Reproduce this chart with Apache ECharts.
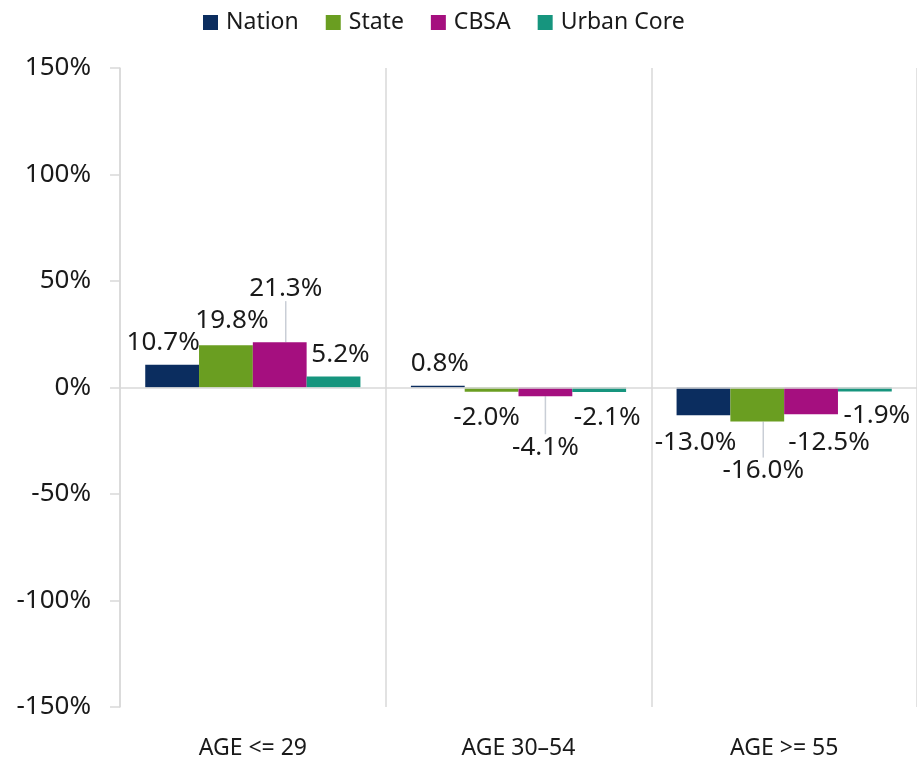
<!DOCTYPE html>
<html>
<head>
<meta charset="utf-8">
<style>
  html, body { margin: 0; padding: 0; background: #fff; }
  #main { width: 917px; height: 762px; }
</style>
<script src="https://cdn.jsdelivr.net/npm/echarts@6/dist/echarts.min.js"></script>
</head>
<body>
<div id="main"></div>
<script>
// grouped bars, % change by age group
var categories = ['AGE <= 29', 'AGE 30\u201354', 'AGE >= 55'];
var seriesNames = ['Nation', 'State', 'CBSA', 'Urban Core'];
var nation = [10.7, 0.8, -13.0];
var state = [19.8, -2.0, -16.0];
var cbsa = [21.3, -4.1, -12.5];
var urbanCore = [5.2, -2.1, -1.9];
var yTicks = [-150, -100, -50, 0, 50, 100, 150];

var colors = ['#0b2d5f', '#6a9e21', '#a50f7f', '#16957e'];
var textColor = '#1a1a1a';
var gridColor = '#d9d9d9';

// label nudges (dx, dy) per series / category, to mimic the original placement
var nudge = [
    [[-9, -4], [2, -4], [-8, 9]],
    [[6, -7], [-5, 8], [6, 31]],
    [[6, -36], [0, 33], [18, 10]],
    [[7, -4], [8, 8], [12, 6]]
];
// which labels get a leader line
var guide = [
    [false, false, false],
    [false, false, true],
    [true, true, false],
    [false, false, false]
];

var myChart = echarts.init(document.getElementById('main'));

function makeSeries(name, values, idx) {
    return {
        name: name,
        type: 'bar',
        barGap: '0%',
        barCategoryGap: '19%',
        itemStyle: { color: colors[idx] },
        label: {
            show: true,
            color: textColor,
            fontSize: 26,
            fontFamily: 'Noto Sans',
            distance: 5,
            formatter: function (p) { return p.value.toFixed(1) + '%'; }
        },
        labelLine: {
            show: true,
            lineStyle: { color: '#c9ced6', width: 1.5 }
        },
        labelLayout: function (p) {
            var n = nudge[idx][p.dataIndex];
            return { dx: n[0], dy: n[1] };
        },
        data: values.map(function (v, i) {
            return {
                value: v,
                label: { position: v >= 0 ? 'top' : 'bottom' },
                labelLine: { show: guide[idx][i] }
            };
        }),
        markLine: idx === 0 ? {
            silent: true,
            symbol: 'none',
            label: { show: false },
            lineStyle: { color: gridColor, width: 1.5, type: 'solid' },
            data: [{ yAxis: 0 }]
        } : undefined
    };
}

var option = {
    animation: false,
    textStyle: { fontFamily: 'Noto Sans' },
    legend: {
        left: 198,
        top: 6,
        itemWidth: 15,
        itemHeight: 15,
        itemGap: 27,
        icon: 'rect',
        textStyle: {
            color: textColor,
            fontSize: 23,
            fontFamily: 'Noto Sans',
            padding: [0, 0, 0, 3]
        },
        data: seriesNames
    },
    grid: {
        left: 120,
        right: 0,
        top: 68,
        bottom: 55,
        containLabel: false
    },
    xAxis: {
        type: 'category',
        data: categories,
        axisLine: { show: false },
        axisTick: { show: false },
        axisLabel: {
            color: textColor,
            fontSize: 23,
            fontFamily: 'Noto Sans',
            margin: 30
        },
        splitLine: {
            show: true,
            lineStyle: { color: gridColor, width: 1.5 }
        }
    },
    yAxis: {
        type: 'value',
        min: yTicks[0],
        max: yTicks[yTicks.length - 1],
        interval: yTicks[1] - yTicks[0],
        axisLine: { show: true, lineStyle: { color: gridColor, width: 1.5 } },
        axisTick: { show: true, inside: false, length: 10, lineStyle: { color: gridColor, width: 1.5 } },
        axisLabel: {
            color: textColor,
            fontSize: 26,
            fontFamily: 'Noto Sans',
            margin: 29,
            formatter: '{value}%'
        },
        splitLine: { show: false }
    },
    series: [
        makeSeries(seriesNames[0], nation, 0),
        makeSeries(seriesNames[1], state, 1),
        makeSeries(seriesNames[2], cbsa, 2),
        makeSeries(seriesNames[3], urbanCore, 3)
    ]
};

myChart.setOption(option);
window.onresize = myChart.resize;
</script>
</body>
</html>
